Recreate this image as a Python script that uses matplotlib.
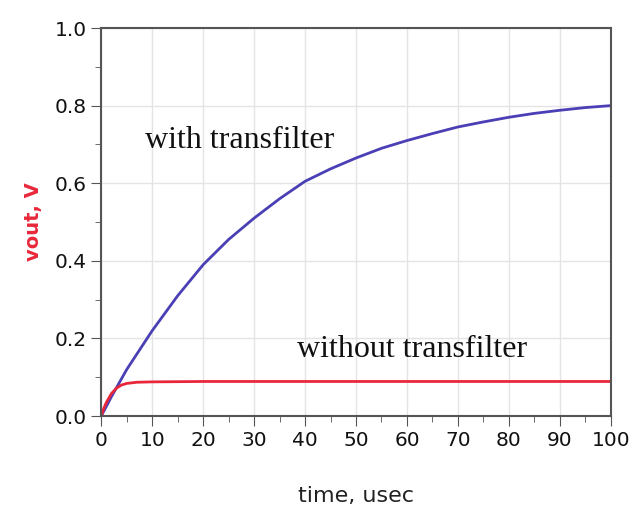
import matplotlib
matplotlib.use('Agg')
import matplotlib.pyplot as plt
from matplotlib.ticker import MultipleLocator

# values
t_with = [0, 2, 5, 10, 15, 20, 25, 30, 35, 40, 45, 50, 55, 60, 65, 70, 75, 80, 85, 90, 95, 100]
v_with = [0, 0.05, 0.12, 0.22, 0.31, 0.39, 0.455, 0.51, 0.56, 0.605, 0.637, 0.665, 0.69, 0.71,
          0.728, 0.745, 0.758, 0.77, 0.78, 0.788, 0.795, 0.80]
t_without = [0, 0.5, 1, 2, 3, 4, 5, 7, 10, 20, 40, 60, 80, 100]
v_without = [0, 0.02, 0.035, 0.058, 0.072, 0.08, 0.084, 0.087, 0.088, 0.089, 0.089, 0.089, 0.089, 0.089]

fig = plt.figure(figsize=(6.29, 5.25), dpi=100)
ax = fig.add_axes([0.161, 0.2076, 0.81, 0.739])

ax.plot(t_with, v_with, color='#4a3fb5', lw=2)
ax.plot(t_without, v_without, color='#e8283a', lw=2)

ax.set_xlim(0, 100)
ax.set_ylim(0, 1.0)
ax.xaxis.set_major_locator(MultipleLocator(10))
ax.xaxis.set_minor_locator(MultipleLocator(5))
ax.yaxis.set_minor_locator(MultipleLocator(0.1))
ax.set_yticks([0.0, 0.2, 0.4, 0.6, 0.8, 1.0])
ax.set_yticklabels(['0.0', '0.2', '0.4', '0.6', '0.8', '1.0'])
ax.tick_params(which='both', direction='out', colors='#555555', labelcolor='#111111', labelsize=14.5)
ax.tick_params(which='major', length=7)
ax.tick_params(which='minor', length=4)
ax.grid(True, which='major', color='#e4e4e4', lw=1)
for s in ax.spines.values():
    s.set_color('#555555')
    s.set_linewidth(1.5)

ax.text(8.5, 0.69, 'with transfilter', family='Liberation Serif', fontsize=23, color='#111111')
ax.text(38.5, 0.152, 'without transfilter', family='Liberation Serif', fontsize=23, color='#111111')

ax.set_xlabel('time, usec', fontsize=16, color='#222222', labelpad=26)
ax.set_ylabel('vout, V', fontsize=14, color='#e8283a', fontweight='bold', labelpad=8)

plt.savefig('out.png', dpi=100)
